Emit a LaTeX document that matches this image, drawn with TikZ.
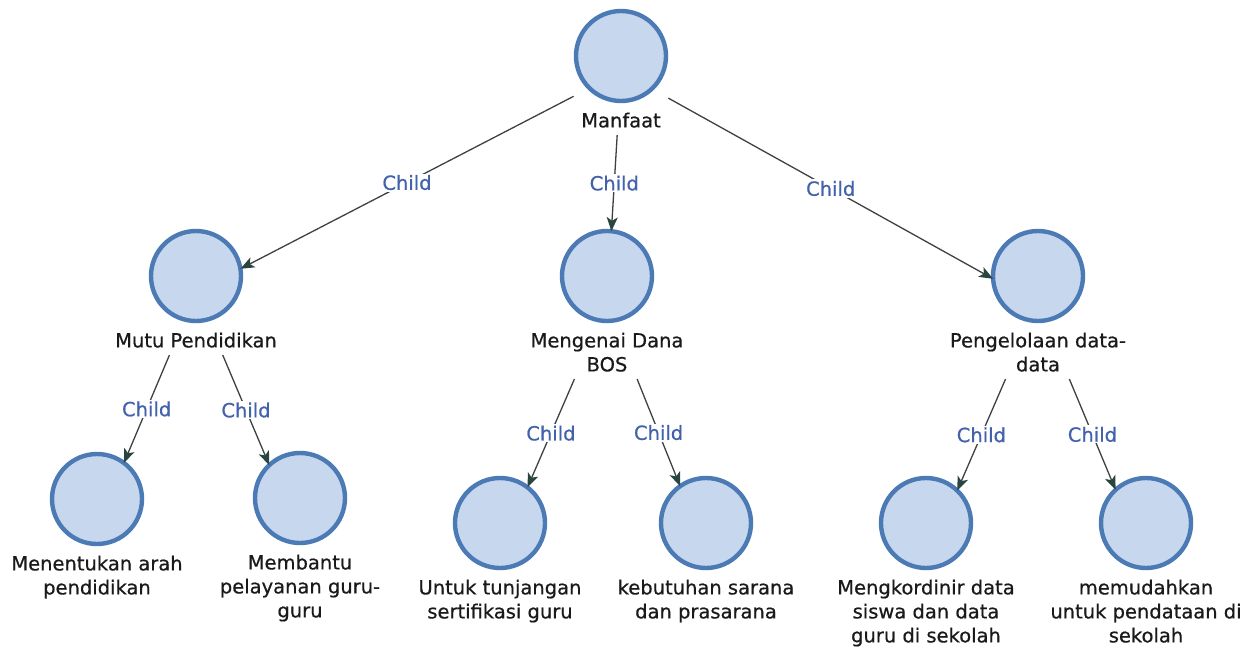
\documentclass[tikz,border=0pt]{standalone}
\usepackage{fontspec}
\setmainfont[FakeBold=0.6]{DejaVu Sans}
\usetikzlibrary{arrows.meta,fit,intersections,calc}

\definecolor{ringfill}{HTML}{C6D7EE}
\definecolor{ringdraw}{HTML}{4B7AB4}
\definecolor{linkgray}{HTML}{3C4242}
\definecolor{tipgreen}{HTML}{2A4440}
\definecolor{relblue}{HTML}{4262AC}
\definecolor{txt}{HTML}{1A1A1A}

\tikzset{
  ring/.style={circle, minimum size=90, inner sep=0, fill=ringfill, draw=ringdraw, line width=4.4pt},
  caption/.style={anchor=north, inner sep=0, align=center, text=txt,
    font=\fontsize{19.5}{24}\selectfont},
  group/.style={inner sep=0, draw=none},
  link/.style={draw=linkgray, line width=1.3pt,
    -{Stealth[length=14pt,width=11pt,inset=3.5pt,fill=tipgreen,color=tipgreen]}},
  rel/.style={fill=white, inner sep=1.5pt, text=relblue,
    font=\fontsize{19.5}{24}\selectfont}
}

% a tree item: circle plus caption, grouped by a fitted box
\newcommand\treeitem[4]{% name, x, y, caption
  \node[ring, name path=ring-#1] (#1) at (#2,#3) {};
  \node[caption] (#1-l) at ($(#1.south)+(0,7.2)$) {\strut #4\strut};
  \node[group, fit=(#1)(#1-l)] (#1-g) {};
}
% connector from a parent's group to the ring of a child
\newcommand\treelink[2]{%
  \path[name path=ln-#2] (#1-g.center) -- (#2-g.center);
  \path[name intersections={of=ln-#2 and ring-#2, by={tip-#2}}];
  \draw[link] (#1-g) -- (tip-#2) node[rel, pos=0.5] {Child};
}

\begin{document}
\begin{tikzpicture}[x=1pt, y=-1pt]
  \useasboundingbox (0,0) rectangle (1254,646);

  \treeitem{r}{621}{56}{Manfaat}
  \treeitem{a}{196}{276}{Mutu Pendidikan}
  \treeitem{b}{607}{276}{Mengenai Dana\\BOS}
  \treeitem{c}{1038}{276}{Pengelolaan data-\\data}
  \treeitem{a1}{97}{499}{Menentukan arah\\pendidikan}
  \treeitem{a2}{300}{498}{Membantu\\pelayanan guru-\\guru}
  \treeitem{b1}{500}{523}{Untuk tunjangan\\sertifikasi guru}
  \treeitem{b2}{706}{523}{kebutuhan sarana\\dan prasarana}
  \treeitem{c1}{926}{523}{Mengkordinir data\\siswa dan data\\guru di sekolah}
  \treeitem{c2}{1146}{523}{memudahkan\\untuk pendataan di\\sekolah}

  \treelink{r}{a}
  \treelink{r}{b}
  \treelink{r}{c}
  \treelink{a}{a1}
  \treelink{a}{a2}
  \treelink{b}{b1}
  \treelink{b}{b2}
  \treelink{c}{c1}
  \treelink{c}{c2}
\end{tikzpicture}
\end{document}
